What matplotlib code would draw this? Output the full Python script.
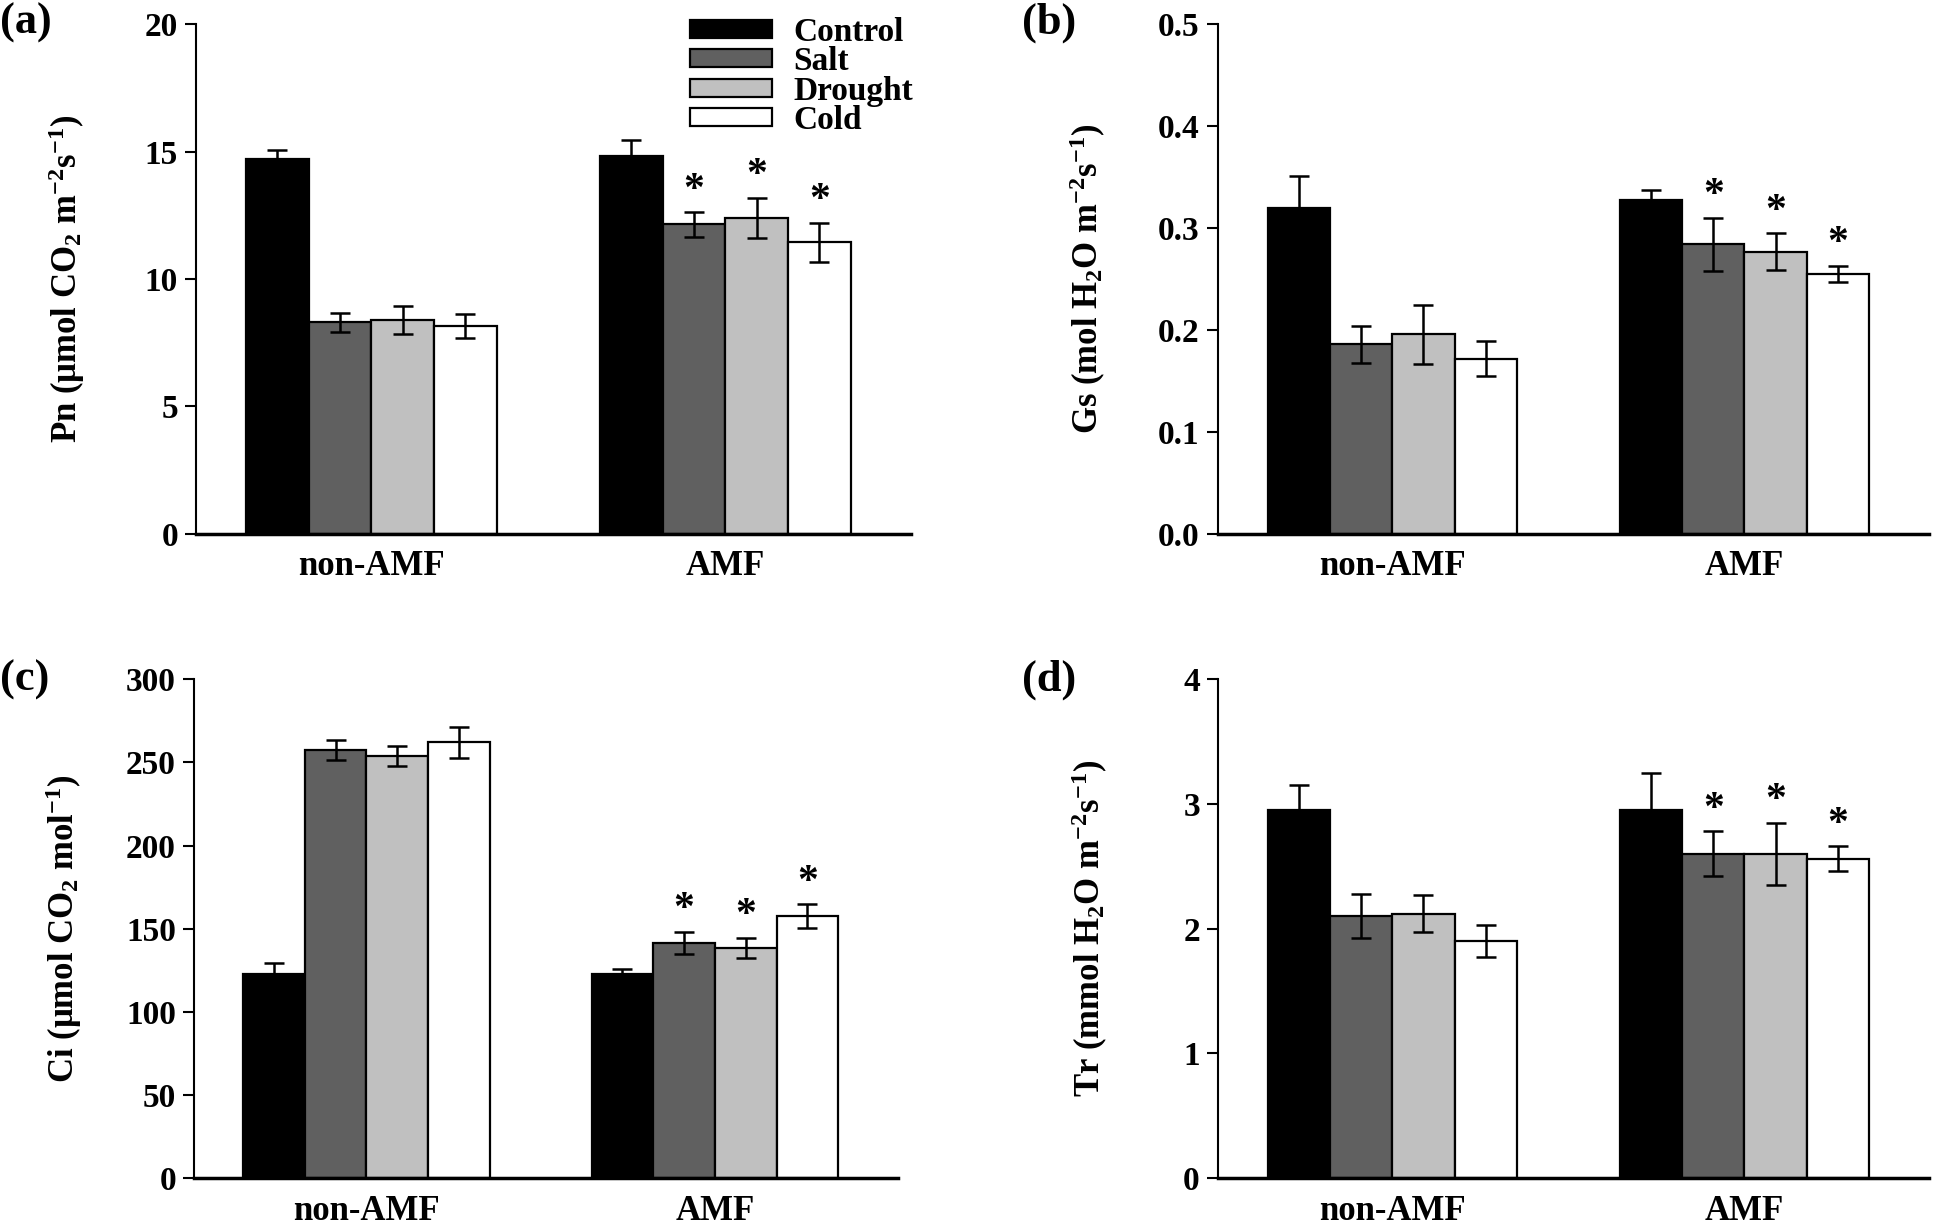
import numpy as np
import matplotlib
matplotlib.use("Agg")
import matplotlib.pyplot as plt

plt.rcParams['font.family'] = ['Liberation Serif', 'DejaVu Serif']
plt.rcParams['font.weight'] = 'bold'
plt.rcParams['mathtext.fontset'] = 'custom'
plt.rcParams['mathtext.rm'] = 'Liberation Serif:bold'
plt.rcParams['mathtext.it'] = 'Liberation Serif:bold'
plt.rcParams['mathtext.bf'] = 'Liberation Serif:bold'

groups = ['non-AMF', 'AMF']
treatments = ['Control', 'Salt', 'Drought', 'Cold']
colors = ['#000000', '#606060', '#c0c0c0', '#ffffff']

# values per treatment: [non-AMF, AMF]
pn = {'Control': [14.7, 14.85], 'Salt': [8.3, 12.15], 'Drought': [8.4, 12.4], 'Cold': [8.15, 11.45]}
pn_err = {'Control': [0.38, 0.62], 'Salt': [0.38, 0.48], 'Drought': [0.55, 0.8], 'Cold': [0.48, 0.77]}

gs = {'Control': [0.320, 0.328], 'Salt': [0.186, 0.284], 'Drought': [0.196, 0.277], 'Cold': [0.172, 0.255]}
gs_err = {'Control': [0.031, 0.009], 'Salt': [0.018, 0.026], 'Drought': [0.029, 0.018], 'Cold': [0.017, 0.008]}

ci = {'Control': [122.5, 122.5], 'Salt': [257.5, 141.5], 'Drought': [254, 138.5], 'Cold': [262, 157.5]}
ci_err = {'Control': [6.7, 3.0], 'Salt': [6.0, 6.7], 'Drought': [6.0, 6.0], 'Cold': [9.4, 7.2]}

tr = {'Control': [2.95, 2.95], 'Salt': [2.1, 2.6], 'Drought': [2.12, 2.6], 'Cold': [1.9, 2.56]}
tr_err = {'Control': [0.2, 0.3], 'Salt': [0.175, 0.18], 'Drought': [0.15, 0.25], 'Cold': [0.13, 0.1]}

# asterisks on AMF Salt, Drought, Cold in every panel
star_treatments = ['Salt', 'Drought', 'Cold']

panels = [
    ('(a)', pn, pn_err, r'Pn (μmol CO$_2$ m$^{-2}$s$^{-1}$)', [0, 5, 10, 15, 20], '%d'),
    ('(b)', gs, gs_err, r'Gs (mol H$_2$O m$^{-2}$s$^{-1}$)', [0.0, 0.1, 0.2, 0.3, 0.4, 0.5], '%.1f'),
    ('(c)', ci, ci_err, r'Ci (μmol CO$_2$ mol$^{-1}$)', [0, 50, 100, 150, 200, 250, 300], '%d'),
    ('(d)', tr, tr_err, r'Tr (mmol H$_2$O m$^{-2}$s$^{-1}$)', [0, 1, 2, 3, 4], '%d'),
]

boxes = [
    [0.1008, 0.564, 0.368, 0.416],
    [0.6265, 0.564, 0.366, 0.416],
    [0.0998, 0.0375, 0.362, 0.4075],
    [0.6265, 0.0375, 0.366, 0.4075],
]
label_coords = [(-0.153, 0.5), (-0.154, 0.5), (-0.156, 0.5), (-0.152, 0.5)]
letter_pos = [(0.0, 0.981), (0.5257, 0.981), (0.0, 0.445), (0.5257, 0.445)]

fig = plt.figure(figsize=(19.44, 12.24), dpi=100)

width = 0.177
x = np.arange(len(groups))

for i, (letter, vals, errs, ylabel, yticks, fmt) in enumerate(panels):
    ax = fig.add_axes(boxes[i])
    for j, t in enumerate(treatments):
        pos = x + (j - 1.5) * width
        ax.bar(pos, vals[t], width, color=colors[j], edgecolor='black', linewidth=1.6,
               label=t, zorder=2)
        ax.errorbar(pos, vals[t], yerr=errs[t], fmt='none', ecolor='black',
                    elinewidth=1.8, capsize=7, capthick=1.8, zorder=3)
        if t in star_treatments:
            top = vals[t][1] + errs[t][1]
            ax.text(pos[1], top + 0.005 * yticks[-1], '*', ha='center', va='bottom',
                    fontsize=30, fontweight='bold')

    ax.set_xlim(-0.495, 1.525)
    ax.set_ylim(yticks[0], yticks[-1])
    ax.set_yticks(yticks)
    ax.set_yticklabels([fmt % v for v in yticks], fontsize=24, fontweight='bold')
    ax.set_xticks(x)
    ax.set_xticklabels(groups, fontsize=25, fontweight='bold')
    ax.tick_params(axis='x', length=0, pad=12)
    ax.tick_params(axis='y', direction='out', length=8, width=1.5, pad=5)
    ax.spines['top'].set_visible(False)
    ax.spines['right'].set_visible(False)
    ax.spines['left'].set_linewidth(1.5)
    ax.spines['bottom'].set_linewidth(2.5)
    ax.set_ylabel(ylabel, fontsize=25, fontweight='bold')
    ax.yaxis.set_label_coords(*label_coords[i])

    fig.text(letter_pos[i][0], letter_pos[i][1], letter, fontsize=32, fontweight='bold',
             ha='left', va='center')

    if i == 0:
        ax.legend(loc='upper left', bbox_to_anchor=(0.691, 1.015), frameon=False,
                  fontsize=24, handlelength=2.46, handleheight=0.45, labelspacing=-0.05,
                  handletextpad=0.63, borderaxespad=0.0, borderpad=0.0)

fig.savefig('out.png', dpi=100)
